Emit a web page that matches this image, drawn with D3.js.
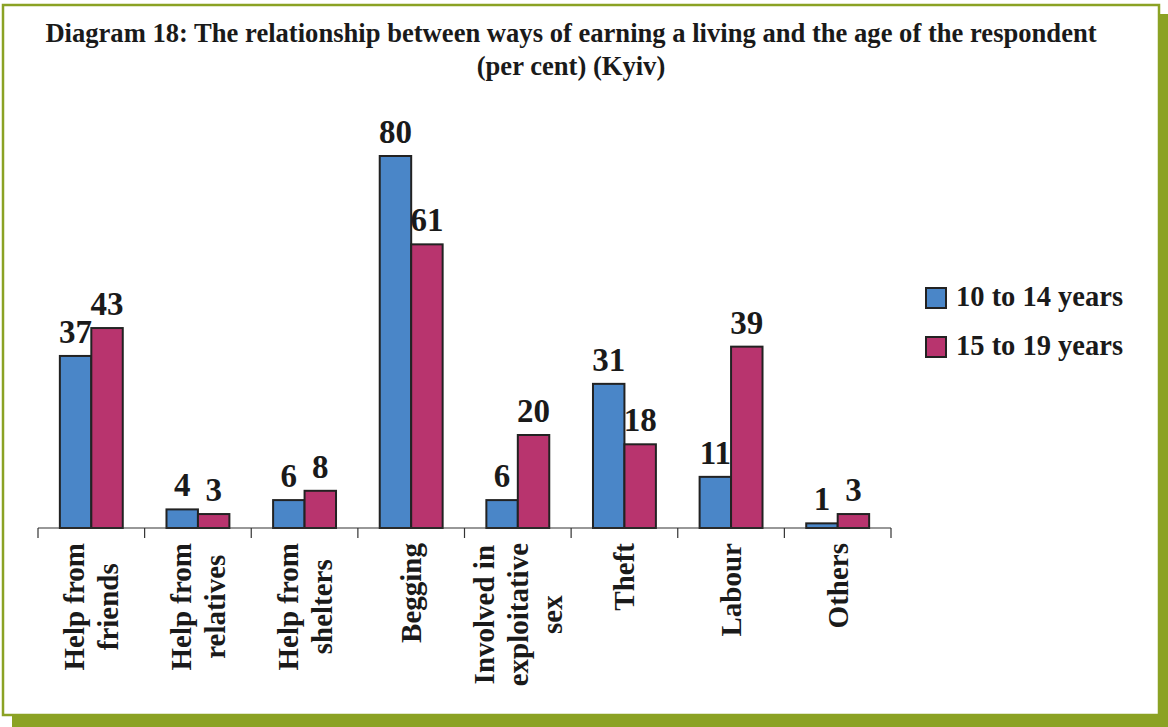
<!DOCTYPE html>
<html><head><meta charset="utf-8">
<script src="https://cdn.jsdelivr.net/npm/d3@7"></script>
<style>
html,body{margin:0;padding:0;background:#fff;}
svg{display:block;}
text{font-family:"Liberation Serif","Times New Roman",serif;font-weight:bold;fill:#1a1a1a;}
</style></head>
<body>
<svg id="chart" width="1168" height="727"></svg>
<script>
const categories = [
  ["Help from","friends"],
  ["Help from","relatives"],
  ["Help from","shelters"],
  ["Begging"],
  ["Involved in","exploitative","sex"],
  ["Theft"],
  ["Labour"],
  ["Others"]
];
const seriesNames = ["10 to 14 years","15 to 19 years"];
const age10to14 = [37, 4, 6, 80, 6, 31, 11, 1];
const age15to19 = [43, 3, 8, 61, 20, 18, 39, 3];
const titleLines = [
  "Diagram 18: The relationship between ways of earning a living and the age of the respondent",
  "(per cent) (Kyiv)"
];

const colors = ["#4a86c8", "#b8346e"];
const green = "#8ba224";
const svg = d3.select("#chart");

// frame with shadow
svg.append("rect").attr("x",12).attr("y",14).attr("width",1156).attr("height",713).attr("fill",green);
svg.append("rect").attr("x",3).attr("y",5).attr("width",1156).attr("height",710)
  .attr("fill","#fff").attr("stroke",green).attr("stroke-width",2.5);

// title
svg.selectAll("text.title").data(titleLines).join("text")
  .attr("class","title")
  .attr("x",571).attr("y",(d,i)=>42+i*33)
  .attr("text-anchor","middle")
  .attr("font-size",26.6)
  .text(d=>d);

const catKeys = categories.map(c=>c.join(" "));
const x0 = d3.scaleBand().domain(catKeys).range([38, 891]).padding(0);
const bw = x0.bandwidth();
const x1 = d3.scaleBand().domain([0,1]).range([bw*0.205, bw*0.795]).padding(0);
const y = d3.scaleLinear().domain([0, 80]).range([528, 156]);

const rows = catKeys.map((k,i)=>({key:k, vals:[age10to14[i], age15to19[i]]}));

const g = svg.append("g");
const groups = g.selectAll("g.cat").data(rows).join("g")
  .attr("transform", d=>`translate(${x0(d.key)},0)`);

groups.selectAll("rect").data(d=>d.vals.map((v,j)=>({v,j}))).join("rect")
  .attr("x", d=>x1(d.j))
  .attr("y", d=>y(d.v))
  .attr("width", x1.bandwidth())
  .attr("height", d=>y(0)-y(d.v))
  .attr("fill", d=>colors[d.j])
  .attr("stroke", "#222")
  .attr("stroke-width", 2);

groups.selectAll("text.val").data(d=>d.vals.map((v,j)=>({v,j}))).join("text")
  .attr("class","val")
  .attr("x", d=>x1(d.j)+x1.bandwidth()/2)
  .attr("y", d=>y(d.v)-13)
  .attr("text-anchor","middle")
  .attr("font-size",33)
  .text(d=>d.v);

// axis
const axis = d3.axisBottom(x0).tickSize(10).tickFormat("");
const axG = svg.append("g").attr("transform","translate(0,528)").call(axis);
axG.select(".domain").attr("stroke","#333").attr("stroke-width",1.2).attr("d","M38,0H891");
axG.selectAll(".tick").remove();
const bounds = d3.range(categories.length+1).map(i=>38 + i*bw);
axG.selectAll("line.b").data(bounds).join("line")
  .attr("x1",d=>d).attr("x2",d=>d).attr("y1",0).attr("y2",10)
  .attr("stroke","#333").attr("stroke-width",1.2);

// category labels (rotated)
const lineGap = 34;
categories.forEach((lines,i)=>{
  const cx = x0(catKeys[i]) + bw/2;
  const lg = svg.append("g");
  const texts = lines.map((ln,k)=>{
    const base = cx + (k-(lines.length-1)/2)*lineGap + 10;
    return lg.append("text")
      .attr("font-size",29)
      .attr("text-anchor","middle")
      .attr("data-base",base)
      .text(ln);
  });
  const maxLen = d3.max(texts, t=>t.node().getComputedTextLength());
  const yc = 543 + maxLen/2;
  texts.forEach(t=>{
    const b = +t.attr("data-base");
    t.attr("transform",`translate(${b},${yc}) rotate(-90)`);
  });
});

// legend
const leg = svg.append("g").attr("transform","translate(926,288)");
seriesNames.forEach((s,i)=>{
  leg.append("rect").attr("x",0).attr("y",i*49).attr("width",20).attr("height",20)
    .attr("fill",colors[i]).attr("stroke","#222").attr("stroke-width",2);
  leg.append("text").attr("x",30).attr("y",i*49+18).attr("font-size",28.5).text(s);
});
</script>
</body></html>
